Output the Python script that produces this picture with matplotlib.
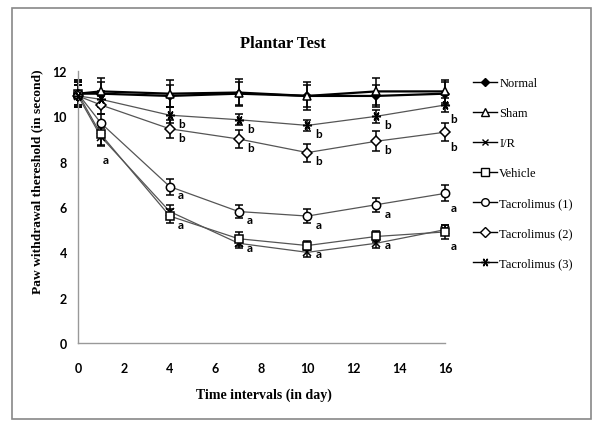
import numpy as np
import matplotlib
matplotlib.use("Agg")
import matplotlib.pyplot as plt
from matplotlib.patches import Rectangle

# time points (days)
days = [0, 1, 4, 7, 10, 13, 16]

normal = [11.0, 11.0, 10.9, 11.0, 10.9, 10.9, 11.0]
normal_err = [0.6, 0.5, 0.5, 0.5, 0.5, 0.5, 0.5]
sham = [11.0, 11.1, 11.0, 11.05, 10.9, 11.1, 11.1]
sham_err = [0.6, 0.6, 0.6, 0.6, 0.6, 0.6, 0.5]
ir = [10.9, 9.1, 5.8, 4.4, 4.0, 4.4, 5.0]
ir_err = [0.5, 0.4, 0.3, 0.2, 0.2, 0.2, 0.2]
vehicle = [11.0, 9.2, 5.6, 4.6, 4.3, 4.7, 4.9]
vehicle_err = [0.5, 0.45, 0.3, 0.3, 0.2, 0.25, 0.3]
tac1 = [11.0, 9.7, 6.9, 5.8, 5.6, 6.1, 6.6]
tac1_err = [0.5, 0.4, 0.35, 0.3, 0.3, 0.3, 0.35]
tac2 = [10.9, 10.5, 9.45, 9.0, 8.4, 8.9, 9.3]
tac2_err = [0.5, 0.4, 0.4, 0.4, 0.4, 0.45, 0.4]
tac3 = [10.9, 10.75, 10.05, 9.85, 9.6, 10.0, 10.5]
tac3_err = [0.5, 0.35, 0.35, 0.25, 0.25, 0.3, 0.3]

labels = ["Normal", "Sham", "I/R", "Vehicle", "Tacrolimus (1)", "Tacrolimus (2)", "Tacrolimus (3)"]
series = [normal, sham, ir, vehicle, tac1, tac2, tac3]
errors = [normal_err, sham_err, ir_err, vehicle_err, tac1_err, tac2_err, tac3_err]

# significance letters for each point ('' = none)
letters_tac1 = ["", "", "a", "a", "a", "a", "a"]
letters_vehicle = ["", "a", "a", "a", "a", "a", "a"]
letters_tac2 = ["", "", "b", "b", "b", "b", "b"]
letters_tac3 = ["", "", "b", "b", "b", "b", "b"]

markers = ["D", "^", "x", "s", "o", "D", (6, 2, 30)]
msizes = [4.5, 6, 5.5, 6, 6, 5.5, 6.5]
faces = ["black", "white", "black", "white", "white", "white", "black"]
lcolors = ["black", "black", "#555555", "#555555", "#555555", "#555555", "#555555"]
lwidths = [1.6, 1.6, 0.9, 0.9, 0.9, 0.9, 0.9]

plt.rcParams["font.family"] = ["Liberation Serif", "DejaVu Serif"]

fig = plt.figure(figsize=(6, 4.27), dpi=100)
fig.patches.append(Rectangle((12 / 600, 7 / 427), 579 / 600, 411 / 427, transform=fig.transFigure,
                             fill=False, edgecolor="#888888", lw=1.2))
ax = fig.add_axes([78 / 600, 83 / 427, 367 / 600, 272 / 427])

handles = []
for i in range(len(series)):
    ax.errorbar(days, series[i], yerr=errors[i], fmt="none", ecolor="black",
                elinewidth=1.1, capsize=3, capthick=1.1, zorder=2, clip_on=False)
    ax.plot(days, series[i], color=lcolors[i], lw=lwidths[i], zorder=3, clip_on=False)
    ax.plot(days, series[i], linestyle="none", marker=markers[i], ms=msizes[i],
            mfc=faces[i], mec="black", mew=1.1, zorder=4, clip_on=False)
    h, = ax.plot([], [], color="black", lw=1.0, marker=markers[i], ms=msizes[i] - 0.5,
                 mfc=faces[i], mec="black", mew=1.0)
    handles.append(h)

def put_letters(vals, letters):
    for j, t in enumerate(letters):
        if not t:
            continue
        if j == 1:
            off = (1, -18)
        elif j == len(letters) - 1:
            off = (4, -10)
        else:
            off = (6, -6)
        ax.annotate(t, (days[j], vals[j]), xytext=off, textcoords="offset points",
                    ha="left", va="center", fontsize=8.5, fontweight="bold",
                    family="Lato")

put_letters(tac1, letters_tac1)
put_letters(vehicle, letters_vehicle)
put_letters(tac2, letters_tac2)
put_letters(tac3, letters_tac3)

ax.set_xlim(0, 16)
ax.set_ylim(0, 12)
ax.set_xticks(np.arange(0, 17, 2))
ax.set_yticks(np.arange(0, 13, 2))
for s in ["top", "right"]:
    ax.spines[s].set_visible(False)
for s in ["left", "bottom"]:
    ax.spines[s].set_color("#999999")
    ax.spines[s].set_linewidth(1.0)
ax.tick_params(length=0, pad=8)
ax.tick_params(axis="x", pad=14)
for lab in ax.get_xticklabels() + ax.get_yticklabels():
    lab.set_family("Lato")
    lab.set_fontweight("bold")
    lab.set_fontsize(9)

fig.text(283 / 600, 1 - 44 / 427, "Plantar Test", ha="center", va="center",
         fontsize=12, fontweight="bold")
fig.text(264 / 600, 1 - 395 / 427, "Time intervals (in day)", ha="center", va="center",
         fontsize=10, fontweight="bold")
fig.text(37 / 600, 1 - 182 / 427, "Paw withdrawal thereshold (in second)", ha="center",
         va="center", rotation=90, fontsize=9.7, fontweight="bold")

fig.legend(handles, labels, loc="upper left", bbox_to_anchor=(468 / 600, 1 - 73 / 427),
           frameon=False, fontsize=9, labelspacing=1.45, handlelength=1.9,
           handletextpad=0.2, borderaxespad=0)

fig.savefig("out.png", dpi=100)
